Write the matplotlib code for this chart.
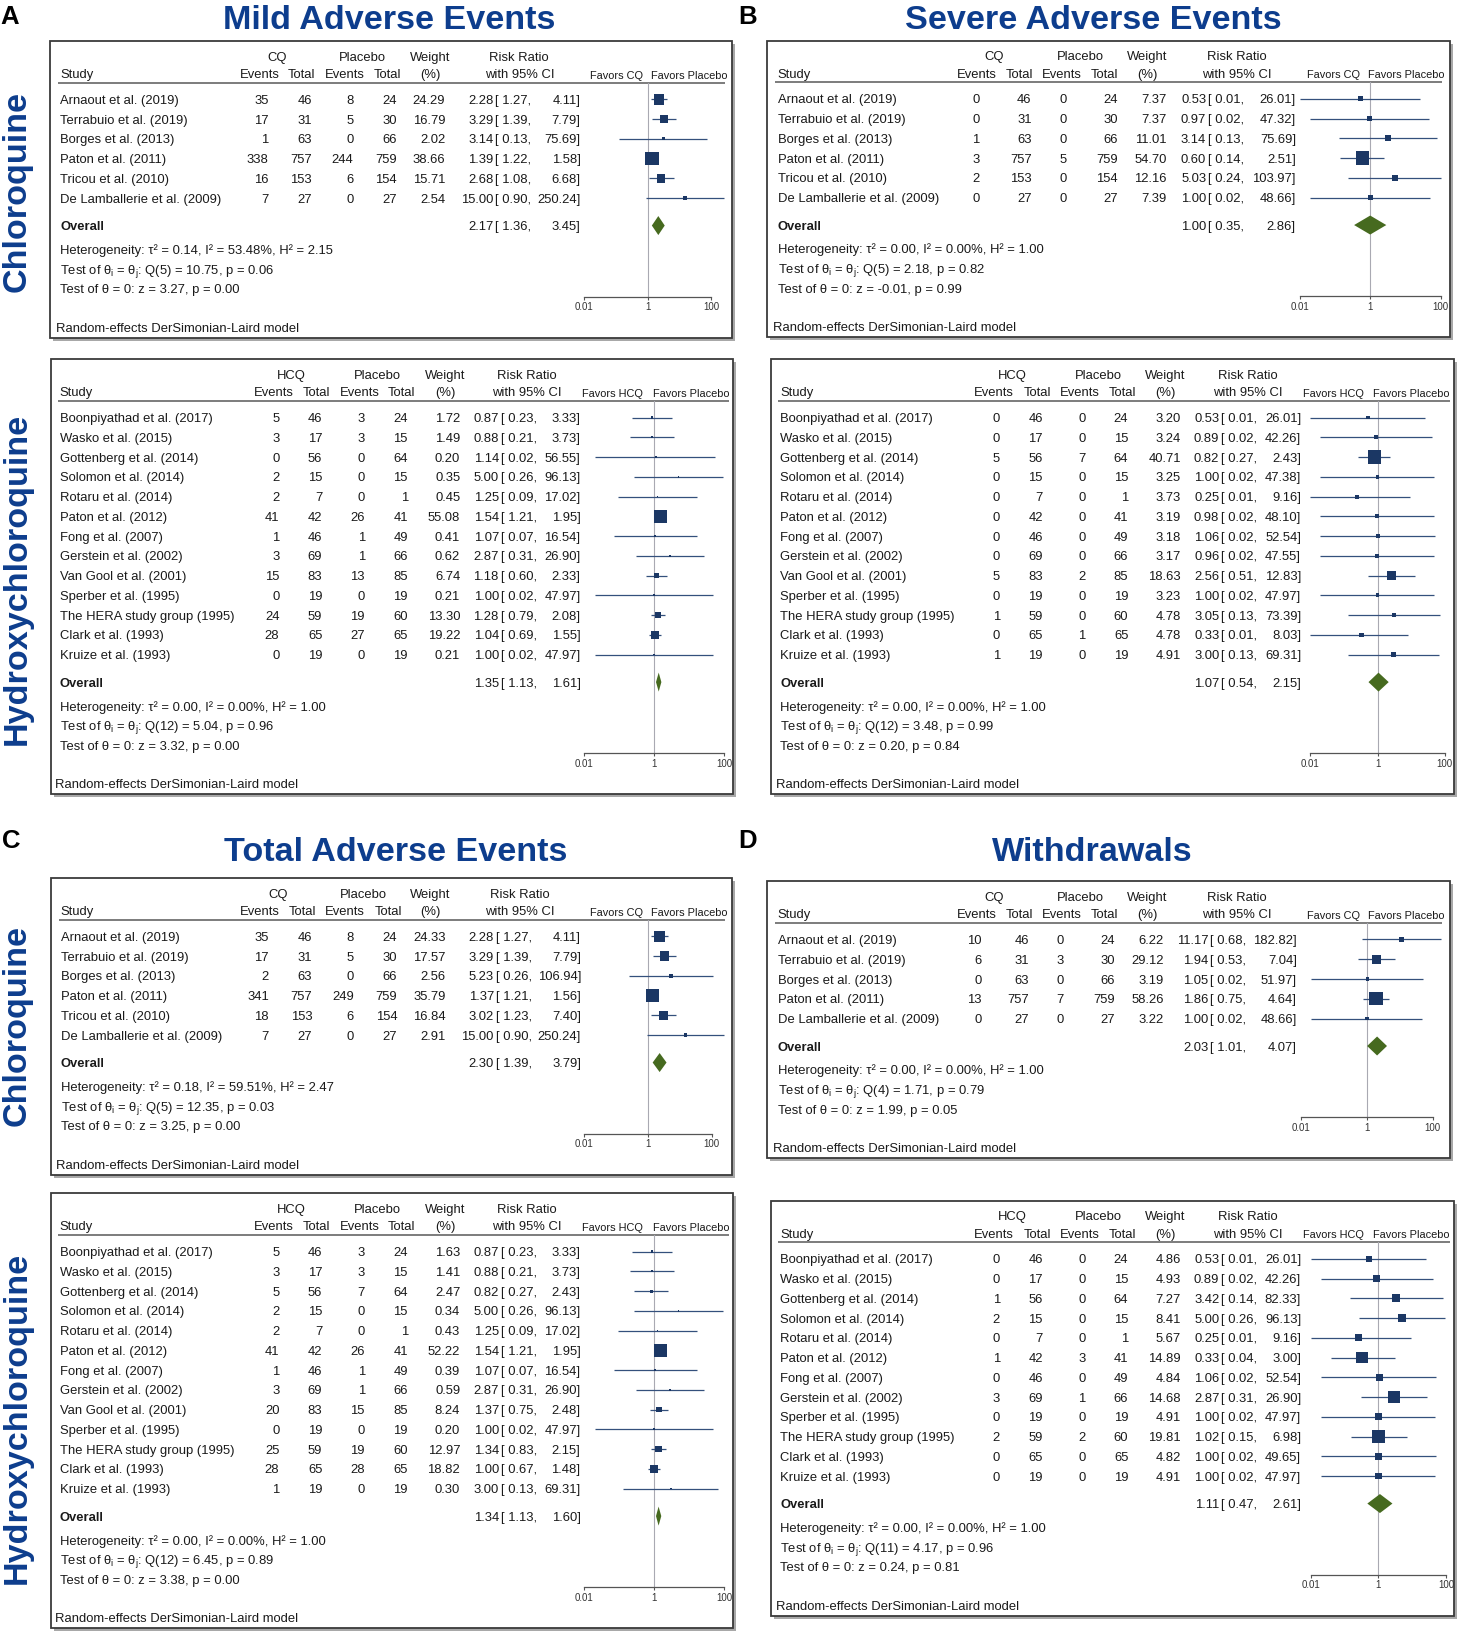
## Import libraries
import numpy as np
import matplotlib
matplotlib.use('Agg')
from matplotlib import pyplot as plt
from matplotlib.patches import Rectangle, Polygon
from matplotlib.ticker import NullLocator

plt.rcParams['font.family'] = ['Liberation Sans', 'DejaVu Sans']

## Study lists and group totals
cq_studies = ['Arnaout et al. (2019)', 'Terrabuio et al. (2019)', 'Borges et al. (2013)',
              'Paton et al. (2011)', 'Tricou et al. (2010)', 'De Lamballerie et al. (2009)']
cq_total = [46, 31, 63, 757, 153, 27]
cq_pl_total = [24, 30, 66, 759, 154, 27]

hcq_studies = ['Boonpiyathad et al. (2017)', 'Wasko et al. (2015)', 'Gottenberg et al. (2014)',
               'Solomon et al. (2014)', 'Rotaru et al. (2014)', 'Paton et al. (2012)',
               'Fong et al. (2007)', 'Gerstein et al. (2002)', 'Van Gool et al. (2001)',
               'Sperber et al. (1995)', 'The HERA study group (1995)', 'Clark et al. (1993)',
               'Kruize et al. (1993)']
hcq_total = [46, 17, 56, 15, 7, 42, 46, 69, 83, 19, 59, 65, 19]
hcq_pl_total = [24, 15, 64, 15, 1, 41, 49, 66, 85, 19, 60, 65, 19]

wd_cq_studies = ['Arnaout et al. (2019)', 'Terrabuio et al. (2019)', 'Borges et al. (2013)',
                 'Paton et al. (2011)', 'De Lamballerie et al. (2009)']
wd_cq_total = [46, 31, 63, 757, 27]
wd_cq_pl_total = [24, 30, 66, 759, 27]

wd_hcq_studies = ['Boonpiyathad et al. (2017)', 'Wasko et al. (2015)', 'Gottenberg et al. (2014)',
                  'Solomon et al. (2014)', 'Rotaru et al. (2014)', 'Paton et al. (2012)',
                  'Fong et al. (2007)', 'Gerstein et al. (2002)', 'Sperber et al. (1995)',
                  'The HERA study group (1995)', 'Clark et al. (1993)', 'Kruize et al. (1993)']
wd_hcq_total = [46, 17, 56, 15, 7, 42, 46, 69, 19, 59, 65, 19]
wd_hcq_pl_total = [24, 15, 64, 15, 1, 41, 49, 66, 19, 60, 65, 19]

## A: mild adverse events
mild_cq_ev = [35, 17, 1, 338, 16, 7]
mild_cq_pev = [8, 5, 0, 244, 6, 0]
mild_cq_w = [24.29, 16.79, 2.02, 38.66, 15.71, 2.54]
mild_cq_rr = [2.28, 3.29, 3.14, 1.39, 2.68, 15.00]
mild_cq_lo = [1.27, 1.39, 0.13, 1.22, 1.08, 0.90]
mild_cq_hi = [4.11, 7.79, 75.69, 1.58, 6.68, 250.24]
mild_cq_overall = (2.17, 1.36, 3.45)
mild_cq_stats = (0.14, 53.48, 2.15, 5, 10.75, 0.06, 3.27, 0.00)

mild_hcq_ev = [5, 3, 0, 2, 2, 41, 1, 3, 15, 0, 24, 28, 0]
mild_hcq_pev = [3, 3, 0, 0, 0, 26, 1, 1, 13, 0, 19, 27, 0]
mild_hcq_w = [1.72, 1.49, 0.20, 0.35, 0.45, 55.08, 0.41, 0.62, 6.74, 0.21, 13.30, 19.22, 0.21]
mild_hcq_rr = [0.87, 0.88, 1.14, 5.00, 1.25, 1.54, 1.07, 2.87, 1.18, 1.00, 1.28, 1.04, 1.00]
mild_hcq_lo = [0.23, 0.21, 0.02, 0.26, 0.09, 1.21, 0.07, 0.31, 0.60, 0.02, 0.79, 0.69, 0.02]
mild_hcq_hi = [3.33, 3.73, 56.55, 96.13, 17.02, 1.95, 16.54, 26.90, 2.33, 47.97, 2.08, 1.55, 47.97]
mild_hcq_overall = (1.35, 1.13, 1.61)
mild_hcq_stats = (0.00, 0.00, 1.00, 12, 5.04, 0.96, 3.32, 0.00)

## B: severe adverse events
sev_cq_ev = [0, 0, 1, 3, 2, 0]
sev_cq_pev = [0, 0, 0, 5, 0, 0]
sev_cq_w = [7.37, 7.37, 11.01, 54.70, 12.16, 7.39]
sev_cq_rr = [0.53, 0.97, 3.14, 0.60, 5.03, 1.00]
sev_cq_lo = [0.01, 0.02, 0.13, 0.14, 0.24, 0.02]
sev_cq_hi = [26.01, 47.32, 75.69, 2.51, 103.97, 48.66]
sev_cq_overall = (1.00, 0.35, 2.86)
sev_cq_stats = (0.00, 0.00, 1.00, 5, 2.18, 0.82, -0.01, 0.99)

sev_hcq_ev = [0, 0, 5, 0, 0, 0, 0, 0, 5, 0, 1, 0, 1]
sev_hcq_pev = [0, 0, 7, 0, 0, 0, 0, 0, 2, 0, 0, 1, 0]
sev_hcq_w = [3.20, 3.24, 40.71, 3.25, 3.73, 3.19, 3.18, 3.17, 18.63, 3.23, 4.78, 4.78, 4.91]
sev_hcq_rr = [0.53, 0.89, 0.82, 1.00, 0.25, 0.98, 1.06, 0.96, 2.56, 1.00, 3.05, 0.33, 3.00]
sev_hcq_lo = [0.01, 0.02, 0.27, 0.02, 0.01, 0.02, 0.02, 0.02, 0.51, 0.02, 0.13, 0.01, 0.13]
sev_hcq_hi = [26.01, 42.26, 2.43, 47.38, 9.16, 48.10, 52.54, 47.55, 12.83, 47.97, 73.39, 8.03, 69.31]
sev_hcq_overall = (1.07, 0.54, 2.15)
sev_hcq_stats = (0.00, 0.00, 1.00, 12, 3.48, 0.99, 0.20, 0.84)

## C: total adverse events
tot_cq_ev = [35, 17, 2, 341, 18, 7]
tot_cq_pev = [8, 5, 0, 249, 6, 0]
tot_cq_w = [24.33, 17.57, 2.56, 35.79, 16.84, 2.91]
tot_cq_rr = [2.28, 3.29, 5.23, 1.37, 3.02, 15.00]
tot_cq_lo = [1.27, 1.39, 0.26, 1.21, 1.23, 0.90]
tot_cq_hi = [4.11, 7.79, 106.94, 1.56, 7.40, 250.24]
tot_cq_overall = (2.30, 1.39, 3.79)
tot_cq_stats = (0.18, 59.51, 2.47, 5, 12.35, 0.03, 3.25, 0.00)

tot_hcq_ev = [5, 3, 5, 2, 2, 41, 1, 3, 20, 0, 25, 28, 1]
tot_hcq_pev = [3, 3, 7, 0, 0, 26, 1, 1, 15, 0, 19, 28, 0]
tot_hcq_w = [1.63, 1.41, 2.47, 0.34, 0.43, 52.22, 0.39, 0.59, 8.24, 0.20, 12.97, 18.82, 0.30]
tot_hcq_rr = [0.87, 0.88, 0.82, 5.00, 1.25, 1.54, 1.07, 2.87, 1.37, 1.00, 1.34, 1.00, 3.00]
tot_hcq_lo = [0.23, 0.21, 0.27, 0.26, 0.09, 1.21, 0.07, 0.31, 0.75, 0.02, 0.83, 0.67, 0.13]
tot_hcq_hi = [3.33, 3.73, 2.43, 96.13, 17.02, 1.95, 16.54, 26.90, 2.48, 47.97, 2.15, 1.48, 69.31]
tot_hcq_overall = (1.34, 1.13, 1.60)
tot_hcq_stats = (0.00, 0.00, 1.00, 12, 6.45, 0.89, 3.38, 0.00)

## D: withdrawals
wd_cq_ev = [10, 6, 0, 13, 0]
wd_cq_pev = [0, 3, 0, 7, 0]
wd_cq_w = [6.22, 29.12, 3.19, 58.26, 3.22]
wd_cq_rr = [11.17, 1.94, 1.05, 1.86, 1.00]
wd_cq_lo = [0.68, 0.53, 0.02, 0.75, 0.02]
wd_cq_hi = [182.82, 7.04, 51.97, 4.64, 48.66]
wd_cq_overall = (2.03, 1.01, 4.07)
wd_cq_stats = (0.00, 0.00, 1.00, 4, 1.71, 0.79, 1.99, 0.05)

wd_hcq_ev = [0, 0, 1, 2, 0, 1, 0, 3, 0, 2, 0, 0]
wd_hcq_pev = [0, 0, 0, 0, 0, 3, 0, 1, 0, 2, 0, 0]
wd_hcq_w = [4.86, 4.93, 7.27, 8.41, 5.67, 14.89, 4.84, 14.68, 4.91, 19.81, 4.82, 4.91]
wd_hcq_rr = [0.53, 0.89, 3.42, 5.00, 0.25, 0.33, 1.06, 2.87, 1.00, 1.02, 1.00, 1.00]
wd_hcq_lo = [0.01, 0.02, 0.14, 0.26, 0.01, 0.04, 0.02, 0.31, 0.02, 0.15, 0.02, 0.02]
wd_hcq_hi = [26.01, 42.26, 82.33, 96.13, 9.16, 3.00, 52.54, 26.90, 47.97, 6.98, 49.65, 47.97]
wd_hcq_overall = (1.11, 0.47, 2.61)
wd_hcq_stats = (0.00, 0.00, 1.00, 11, 4.17, 0.96, 0.24, 0.81)

## Styling / layout (pixels)
W, H = 1459, 1637
FS = 9.4
FS_FAV = 7.9
TXT = '#1a1a1a'
BLUE = '#0d3d8d'
NAVY = '#1b3764'
CI_COL = '#34507c'
GREEN = '#466a1f'
BASE = 4.6
HDR1, HDR2, HLINE, ROW0, PITCH = 15.2, 32.5, 41.8, 58.3, 19.75

CQ_COLS = dict(study=10.4, grp=227.3, plc=312.7, ev_h=209.4, tot_h=251.9, pev_h=294.5,
               ptot_h=337.7, w_h=380.1, rr_h=469.3, ev=218.4, tot=261.8, pev=303.3,
               ptot=346.7, w=395.3, rr=443.3, hi=530.5, fav1=566, fav2=639,
               line0=8, line1=674.6, re=5.7)
CQ_B = dict(CQ_COLS, ev=212.4, tot=264.3, pev=299.3, ptot=350.7, w=399.3, rr=439, hi=528.6)
CQ_D = dict(CQ_COLS, ev=214.7, tot=262, pev=296.4, ptot=347.4, w=396.5, rr=441.3, hi=529.6)
HCQ_COLS = dict(study=9.4, grp=241.2, plc=327.1, ev_h=223.2, tot_h=266, pev_h=308.9,
                ptot_h=351.4, w_h=394.5, rr_h=476.7, ev=228.9, tot=271.8, pev=314.3,
                ptot=357.3, w=409.7, rr=448.3, hi=530, fav1=562, fav2=640.4,
                line0=7, line1=678.6, re=4.7)

fig = plt.figure(figsize=(W / 100, H / 100), dpi=100)
bg = fig.add_axes([0, 0, 1, 1])
bg.set_xlim(0, W)
bg.set_ylim(H, 0)
bg.axis('off')


def forest_panel(x0, y0, bw, cols, span, group, studies, total, pl_total,
                 events, pl_events, weight, rr, lo, hi, overall, stats):
    n = len(studies)
    rows = ROW0 + PITCH * np.arange(n)
    ov_y = rows[-1] + 27.5
    het_y = ov_y + 23.8
    test_y = [het_y + PITCH, het_y + 2 * PITCH]
    axis_y = test_y[1] + 7.9
    box_h = axis_y + 41

    ## box with shadow
    bg.add_patch(Rectangle((x0 + 3, y0 + 3), bw, box_h, fc='#a8a8a8', ec='none', zorder=1))
    bg.add_patch(Rectangle((x0, y0), bw, box_h, fc='white', ec='#3a3a3a', lw=1.3, zorder=2))

    def put(x, y, s, ha='left', size=FS, **kw):
        bg.text(x0 + x, y0 + y, s, ha=ha, va='baseline', fontsize=size,
                color=TXT, zorder=4, **kw)

    c = cols
    ## header
    put(c['grp'], HDR1 + BASE, group, 'center')
    put(c['plc'], HDR1 + BASE, 'Placebo', 'center')
    put(c['w_h'], HDR1 + BASE, 'Weight', 'center')
    put(c['rr_h'], HDR1 + BASE, 'Risk Ratio', 'center')
    put(c['study'], HDR2 + BASE, 'Study')
    for key, lab in [('ev_h', 'Events'), ('tot_h', 'Total'), ('pev_h', 'Events'),
                     ('ptot_h', 'Total'), ('w_h', '(%)'), ('rr_h', 'with 95% CI')]:
        put(c[key], HDR2 + BASE, lab, 'center')
    put(c['fav1'], HDR2 + 5.2, 'Favors ' + group, 'center', size=FS_FAV)
    put(c['fav2'], HDR2 + 5.2, 'Favors Placebo', 'center', size=FS_FAV)
    bg.plot([x0 + c['line0'], x0 + c['line1']], [y0 + HLINE] * 2,
            color='#666666', lw=1.2, zorder=3, solid_capstyle='butt')

    ## study rows
    for i in range(n):
        y = rows[i] + BASE
        put(c['study'], y, studies[i])
        put(c['ev'], y, str(events[i]), 'right')
        put(c['tot'], y, str(total[i]), 'right')
        put(c['pev'], y, str(pl_events[i]), 'right')
        put(c['ptot'], y, str(pl_total[i]), 'right')
        put(c['w'], y, '{:.2f}'.format(weight[i]), 'right')
        put(c['rr'], y, '{:.2f}'.format(rr[i]), 'right')
        put(c['rr'] + 2, y, '[ {:.2f},'.format(lo[i]))
        put(c['hi'], y, '{:.2f}]'.format(hi[i]), 'right')

    ## overall + stats
    orr, olo, ohi = overall
    put(c['study'], ov_y + BASE, 'Overall', fontweight='bold')
    put(c['rr'], ov_y + BASE, '{:.2f}'.format(orr), 'right')
    put(c['rr'] + 2, ov_y + BASE, '[ {:.2f},'.format(olo))
    put(c['hi'], ov_y + BASE, '{:.2f}]'.format(ohi), 'right')
    tau2, i2, h2, df, q, pq, z, pz = stats
    put(c['study'], het_y + BASE,
        'Heterogeneity: τ² = {:.2f}, I² = {:.2f}%, H² = {:.2f}'.format(tau2, i2, h2))
    put(c['study'], test_y[0] + BASE,
        'Test of θ$_\\mathregular{{i}}$ = θ$_\\mathregular{{j}}$: Q({}) = {:.2f}, p = {:.2f}'.format(df, q, pq))
    put(c['study'], test_y[1] + BASE,
        'Test of θ = 0: z = {:.2f}, p = {:.2f}'.format(z, pz))
    put(c['re'], axis_y + 30.5 + BASE, 'Random-effects DerSimonian-Laird model')

    ## forest plot on log scale
    fx0, fx1 = span
    fax = fig.add_axes([(x0 + fx0) / W, 1 - (y0 + axis_y) / H,
                        (fx1 - fx0) / W, (axis_y - HLINE) / H])
    fax.patch.set_visible(False)
    fax.set_xscale('log')
    fax.set_xlim(0.01, 100)
    fax.set_ylim(axis_y, HLINE)
    for s in ['top', 'left', 'right']:
        fax.spines[s].set_visible(False)
    fax.spines['bottom'].set_color('#555555')
    fax.spines['bottom'].set_linewidth(0.9)
    fax.set_yticks([])
    fax.set_xticks([0.01, 1, 100])
    fax.set_xticklabels(['0.01', '1', '100'])
    fax.xaxis.set_minor_locator(NullLocator())
    fax.tick_params(axis='x', labelsize=7, labelcolor='#333333', color='#555555',
                    length=2.5, width=0.8, pad=1.5)
    fax.axvline(1, color='#a9a9b2', lw=0.8, zorder=1)
    fax.hlines(rows, lo, hi, color=CI_COL, lw=0.9, zorder=2, clip_on=False)
    w = np.array(weight)
    sizes = np.maximum(92 * w / w.max(), 1.5)
    fax.scatter(rr, rows, s=sizes, marker='s', color=NAVY, linewidths=0,
                zorder=3, clip_on=False)
    fax.add_patch(Polygon([(olo, ov_y), (orr, ov_y - 9.5), (ohi, ov_y), (orr, ov_y + 9.5)],
                          closed=True, fc=GREEN, ec='none', zorder=3, clip_on=False))


## panel letters, titles, side labels
for lx, ly, letter in [(0, 24, 'A'), (738, 23.5, 'B'), (2, 848, 'C'), (738, 848, 'D')]:
    bg.text(lx, ly, letter, ha='left', va='baseline', fontsize=18.5,
            fontweight='bold', color='black')
for tx, ty, title in [(389, 29, 'Mild Adverse Events'), (1093, 29, 'Severe Adverse Events'),
                      (396, 861, 'Total Adverse Events'), (1092, 861, 'Withdrawals')]:
    bg.text(tx, ty, title, ha='center', va='baseline', fontsize=24.6,
            fontweight='bold', color=BLUE)
for vy, lab in [(191.5, 'Chloroquine'), (578.7, 'Hydroxychloroquine'),
                (1026, 'Chloroquine'), (1418, 'Hydroxychloroquine')]:
    bg.text(17, vy, lab, rotation=90, ha='center', va='center', fontsize=24.6,
            fontweight='bold', color=BLUE)

## draw the eight forest plots
forest_panel(50, 41, 681.5, CQ_COLS, (533.9, 661.3), 'CQ', cq_studies, cq_total, cq_pl_total,
             mild_cq_ev, mild_cq_pev, mild_cq_w, mild_cq_rr, mild_cq_lo, mild_cq_hi,
             mild_cq_overall, mild_cq_stats)
forest_panel(50.5, 359.3, 682, HCQ_COLS, (533.8, 673.5), 'HCQ', hcq_studies, hcq_total, hcq_pl_total,
             mild_hcq_ev, mild_hcq_pev, mild_hcq_w, mild_hcq_rr, mild_hcq_lo, mild_hcq_hi,
             mild_hcq_overall, mild_hcq_stats)
forest_panel(767.2, 40.5, 683, CQ_B, (532.4, 673.6), 'CQ', cq_studies, cq_total, cq_pl_total,
             sev_cq_ev, sev_cq_pev, sev_cq_w, sev_cq_rr, sev_cq_lo, sev_cq_hi,
             sev_cq_overall, sev_cq_stats)
forest_panel(771, 359.3, 683, HCQ_COLS, (539.2, 673.8), 'HCQ', hcq_studies, hcq_total, hcq_pl_total,
             sev_hcq_ev, sev_hcq_pev, sev_hcq_w, sev_hcq_rr, sev_hcq_lo, sev_hcq_hi,
             sev_hcq_overall, sev_hcq_stats)
forest_panel(50.5, 878, 681.5, CQ_COLS, (533.9, 661.3), 'CQ', cq_studies, cq_total, cq_pl_total,
             tot_cq_ev, tot_cq_pev, tot_cq_w, tot_cq_rr, tot_cq_lo, tot_cq_hi,
             tot_cq_overall, tot_cq_stats)
forest_panel(50.5, 1193.3, 682, HCQ_COLS, (533.8, 673.5), 'HCQ', hcq_studies, hcq_total, hcq_pl_total,
             tot_hcq_ev, tot_hcq_pev, tot_hcq_w, tot_hcq_rr, tot_hcq_lo, tot_hcq_hi,
             tot_hcq_overall, tot_hcq_stats)
forest_panel(767.2, 881.2, 683, CQ_D, (534.2, 665.4), 'CQ', wd_cq_studies, wd_cq_total, wd_cq_pl_total,
             wd_cq_ev, wd_cq_pev, wd_cq_w, wd_cq_rr, wd_cq_lo, wd_cq_hi,
             wd_cq_overall, wd_cq_stats)
forest_panel(771, 1200.5, 683, HCQ_COLS, (539.9, 674.9), 'HCQ', wd_hcq_studies, wd_hcq_total,
             wd_hcq_pl_total, wd_hcq_ev, wd_hcq_pev, wd_hcq_w, wd_hcq_rr, wd_hcq_lo, wd_hcq_hi,
             wd_hcq_overall, wd_hcq_stats)

fig.savefig('out.png', dpi=100)
plt.close('all')
